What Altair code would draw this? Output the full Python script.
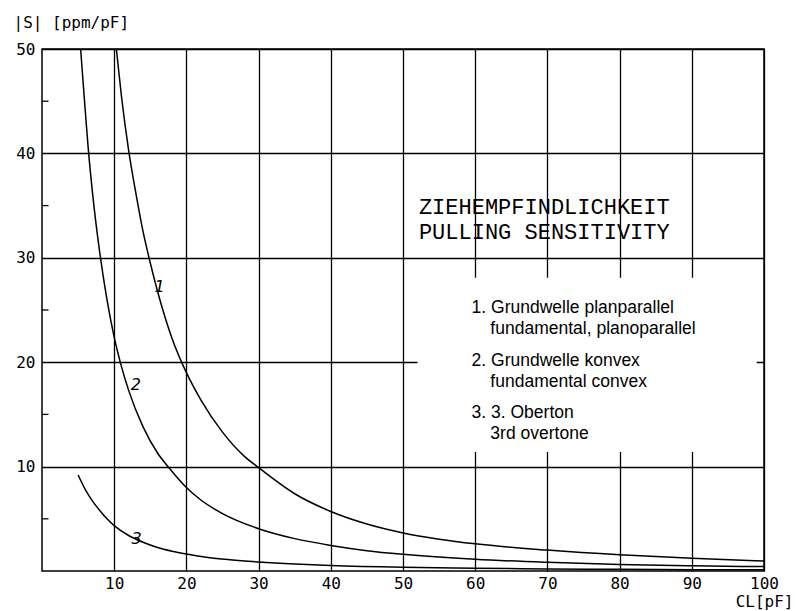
import altair as alt
import pandas as pd

# ---- axis values ----
x_ticks = [10, 20, 30, 40, 50, 60, 70, 80, 90, 100]
y_ticks = [10, 20, 30, 40, 50]
y_minor = [5, 15, 25, 35, 45]

# ---- curve 1: Grundwelle planparallel ----
c1_x = [10.3, 11, 12, 13, 14, 15, 16, 17, 18, 20, 22, 25, 28, 30, 35, 40, 45, 50, 55, 60, 70, 80, 90, 100]
c1_y = [50, 45.5, 40.3, 36.2, 32.5, 29.5, 26.8, 24.4, 22.3, 19.0, 16.4, 13.3, 11.0, 9.9, 7.4, 5.7, 4.5, 3.65, 3.05, 2.6, 2.0, 1.55, 1.22, 0.95]

# ---- curve 2: Grundwelle konvex ----
c2_x = [5.35, 6, 6.4, 7, 8, 9, 10, 11, 12, 14, 16, 17.7, 20, 22, 25, 30, 35, 40, 45, 50, 60, 70, 80, 90, 100]
c2_y = [50, 44, 40.5, 36.2, 30.5, 26, 22.4, 19.6, 17.3, 13.8, 11.3, 9.8, 8.0, 6.8, 5.5, 4.05, 3.1, 2.45, 1.95, 1.6, 1.12, 0.83, 0.63, 0.5, 0.42]

# ---- curve 3: 3. Oberton ----
c3_x = [5.0, 6, 7, 8, 9, 10, 12, 14, 16, 18, 20, 23, 26, 30, 35, 40, 50, 60, 70, 80, 90, 100]
c3_y = [9.2, 7.8, 6.7, 5.8, 5.0, 4.35, 3.4, 2.75, 2.25, 1.9, 1.63, 1.3, 1.08, 0.86, 0.66, 0.52, 0.35, 0.26, 0.2, 0.16, 0.13, 0.11]

curve_names = ["1", "2", "3"]

# ---- annotations ----
title_lines = ["ZIEHEMPFINDLICHKEIT", "PULLING SENSITIVITY"]
title_x = [52.2, 52.2]
title_y = [34.9, 32.5]

legend_lines = [
    "1. Grundwelle planparallel",
    "fundamental, planoparallel",
    "2. Grundwelle konvex",
    "fundamental convex",
    "3. 3. Oberton",
    "3rd overtone",
]
legend_x = [59.5, 62.1, 59.5, 62.1, 59.5, 62.1]
legend_y = [25.2, 23.2, 20.1, 18.1, 15.1, 13.1]

label_x = [16.3, 13.0, 13.1]
label_y = [27.2, 17.8, 3.1]

# ---- build tables ----
curves = pd.concat([
    pd.DataFrame({"cl": c1_x, "s": c1_y, "curve": curve_names[0]}),
    pd.DataFrame({"cl": c2_x, "s": c2_y, "curve": curve_names[1]}),
    pd.DataFrame({"cl": c3_x, "s": c3_y, "curve": curve_names[2]}),
], ignore_index=True)

titles_df = pd.DataFrame({"cl": title_x, "s": title_y, "t": title_lines})
legend_df = pd.DataFrame({"cl": legend_x, "s": legend_y, "t": legend_lines})
labels_df = pd.DataFrame({"cl": label_x, "s": label_y, "t": curve_names})
minor_df = pd.DataFrame({"s": y_minor})

MONO = "DejaVu Sans Mono"

x_scale = alt.Scale(domain=[0, 100], nice=False, zero=False)
y_scale = alt.Scale(domain=[0, 50], nice=False, zero=False)

x_axis = alt.Axis(
    values=x_ticks, grid=True, gridColor="black", gridWidth=1.3, gridOpacity=1,
    domain=False, ticks=False, labelFont=MONO, labelFontSize=16, labelColor="black",
    labelPadding=4, labelFlush=False, title="CL[pF]", titleFont=MONO, titleFontSize=16,
    titleFontWeight="normal", titleColor="black", titleAnchor="end", titleAlign="right",
    titleX=751, titleY=35, titleBaseline="alphabetic",
)
y_axis = alt.Axis(
    values=y_ticks, grid=True, gridColor="black", gridWidth=1.3, gridOpacity=1,
    domain=False, ticks=False, labelFont=MONO, labelFontSize=16, labelColor="black",
    labelPadding=7, labelFlush=False, title="|S| [ppm/pF]", titleFont=MONO, titleFontSize=16,
    titleFontWeight="normal", titleColor="black", titleAngle=0, titleAlign="left",
    titleX=-29, titleY=-22, titleBaseline="alphabetic",
)

lines = alt.Chart(curves).mark_line(color="black", strokeWidth=1.5, interpolate="monotone").encode(
    x=alt.X("cl:Q", scale=x_scale, axis=x_axis),
    y=alt.Y("s:Q", scale=y_scale, axis=y_axis),
    detail="curve:N",
)

# white box that interrupts the grid behind the legend text
cover = alt.Chart(pd.DataFrame({"k": [0]})).mark_rect(color="white").encode(
    x=alt.datum(52), x2=alt.datum(99), y=alt.datum(11.4), y2=alt.datum(28.1)
)

minor = alt.Chart(minor_df).mark_rule(color="black", strokeWidth=1.3).encode(
    y="s:Q", x=alt.datum(0), x2=alt.datum(0.9)
)

title_txt = alt.Chart(titles_df).mark_text(
    align="left", baseline="middle", font="Liberation Mono", fontSize=22, color="black"
).encode(x="cl:Q", y="s:Q", text="t:N")

legend_txt = alt.Chart(legend_df).mark_text(
    align="left", baseline="middle", font="Liberation Sans", fontSize=17.5, color="black"
).encode(x="cl:Q", y="s:Q", text="t:N")

label_txt = alt.Chart(labels_df).mark_text(
    align="center", baseline="middle", font="DejaVu Sans", fontSize=16, fontStyle="italic", color="black"
).encode(x="cl:Q", y="s:Q", text="t:N")

chart = alt.layer(cover, lines, minor, title_txt, legend_txt, label_txt).properties(
    width=722, height=522,
    autosize=alt.AutoSizeParams(type="none"),
    padding={"left": 42, "top": 49, "right": 32, "bottom": 40},
    background="white",
).configure_view(stroke="black", strokeWidth=1.5)

chart.save("out.html", embed_options={"renderer": "svg", "actions": False})
